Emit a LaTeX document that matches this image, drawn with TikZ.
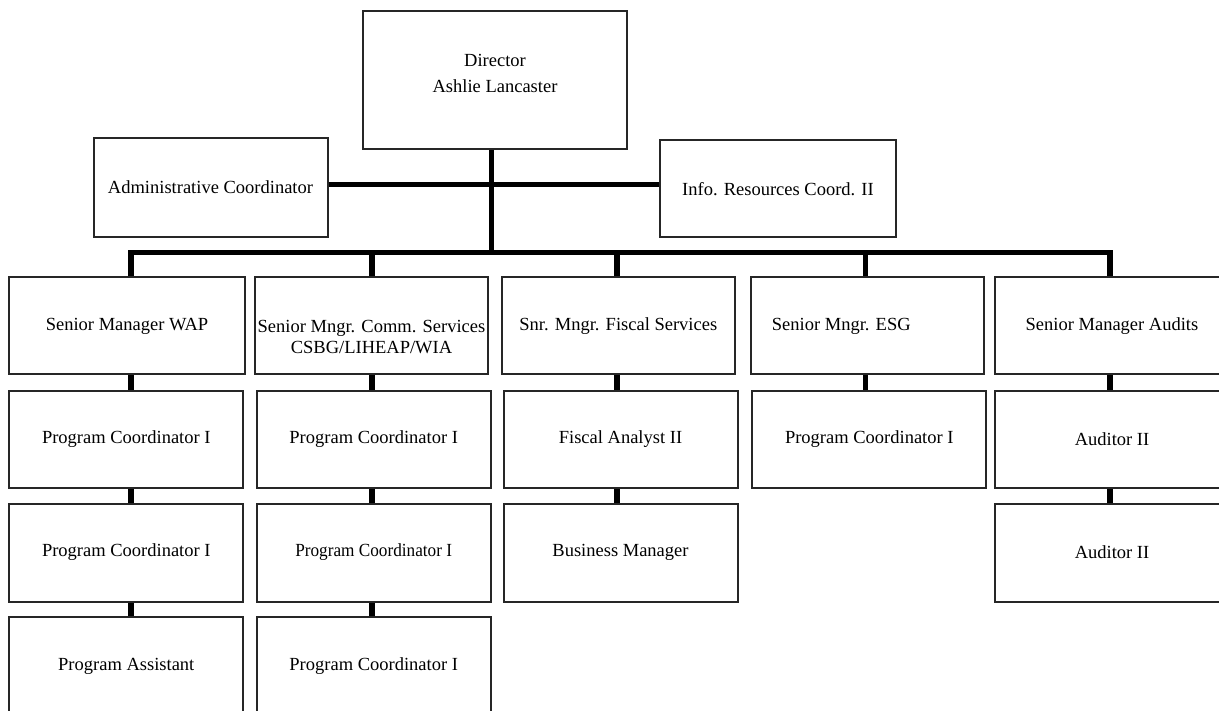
\documentclass[tikz,border=0pt]{standalone}
\usepackage{fontspec}
\setmainfont{Liberation Serif}
\usepackage{graphicx}
\begin{document}
\begin{tikzpicture}[x=1pt,y=-1pt,
  lbl/.style={font=\fontsize{18.5}{21.5}\selectfont},
  box/.style={lbl, rectangle, draw=black!85, line width=2pt, fill=white,
    inner sep=0pt, align=center, minimum width=234pt, minimum height=97pt},
  txt/.style={lbl, inner sep=0pt, align=center},
  conn/.style={line width=5.5pt, black, line join=miter, line cap=butt}]
\useasboundingbox (0,0) rectangle (1219,711);
\fill[white] (0,0) rectangle (1219,711);

% top of the chart
\node[box, minimum width=264pt, minimum height=138pt] (dir) at (495,80) {};
\node[txt] (dirtext) at ([yshift=7pt]dir.center) {Director\\[4.5pt]Ashlie Lancaster};
\node[box, minimum height=99pt] (admin) at (210.5,187.5) {Administrative Coordinator};
\node[box, minimum width=236pt] (info) at (778,189) {Info. Resources Coord. II};

% senior managers
\node[box, minimum width=236pt] (wap) at (127,326) {Senior Manager WAP};
\node[box, minimum width=233pt] (comm) at (371.5,326) {};
\node[txt] (commtext) at ([yshift=-11pt]comm.center) {Senior Mngr. Comm. Services\\CSBG/LIHEAP/WIA};
\node[box, minimum width=233pt] (fisc) at (618.3,326) {Snr. Mngr. Fiscal Services};
\node[box, minimum width=233pt] (esg) at (867.3,326) {};
\node[txt] (esgtext) at ([xshift=-26pt]esg.center) {Senior Mngr. ESG};
\node[box] (aud) at (1112,326) {Senior Manager Audits};

% second row
\node[box] (wap2) at (126.3,439.5) {Program Coordinator I};
\node[box] (comm2) at (373.7,439.5) {Program Coordinator I};
\node[box] (fisc2) at (620.5,439.5) {Fiscal Analyst II};
\node[box] (esg2) at (869.3,439.5) {Program Coordinator I};
\node[box] (aud2) at (1112,439.5) {Auditor II};

% third row
\node[box, minimum height=98pt] (wap3) at (126.3,552.5) {Program Coordinator I};
\node[box, minimum height=98pt] (comm3) at (373.7,552.5) {\scalebox{0.93}[1]{Program Coordinator I}};
\node[box, minimum height=98pt] (fisc3) at (620.5,552.5) {Business Manager};
\node[box, minimum height=98pt] (aud3) at (1112,552.5) {Auditor II};

% fourth row
\node[box, minimum height=98pt] (wap4) at (126.3,666) {Program Assistant};
\node[box, minimum height=98pt] (comm4) at (373.7,666) {Program Coordinator I};

% column axes on the bus
\coordinate (colA) at (131,252.7);
\coordinate (colB) at (372,252.7);
\coordinate (colC) at (617,252.7);
\coordinate (colD) at (865.5,252.7);
\coordinate (colE) at (1110,252.7);
\coordinate (junc) at (491.7,252.7);

% director links
\draw[conn] ([xshift=-3.3pt]dir.south) -- (junc);
\draw[conn] ([yshift=3pt]admin.east) -- ([yshift=3pt]admin.east -| info.west);

% bus and drops to the senior managers
\draw[conn] (wap.north -| colA) -- (colA) -- (colE) -- (aud.north -| colE);
\draw[conn] (colB) -- (comm.north -| colB);
\draw[conn] (colC) -- (fisc.north -| colC);
\draw[conn] (colD) -- (esg.north -| colD);

% links down each column
\draw[conn] (wap.south -| colA) -- (wap2.north -| colA);
\draw[conn] (wap2.south -| colA) -- (wap3.north -| colA);
\draw[conn] (wap3.south -| colA) -- (wap4.north -| colA);
\draw[conn] (comm.south -| colB) -- (comm2.north -| colB);
\draw[conn] (comm2.south -| colB) -- (comm3.north -| colB);
\draw[conn] (comm3.south -| colB) -- (comm4.north -| colB);
\draw[conn] (fisc.south -| colC) -- (fisc2.north -| colC);
\draw[conn] (fisc2.south -| colC) -- (fisc3.north -| colC);
\draw[conn] (esg.south -| colD) -- (esg2.north -| colD);
\draw[conn] (aud.south -| colE) -- (aud2.north -| colE);
\draw[conn] (aud2.south -| colE) -- (aud3.north -| colE);
\end{tikzpicture}
\end{document}
